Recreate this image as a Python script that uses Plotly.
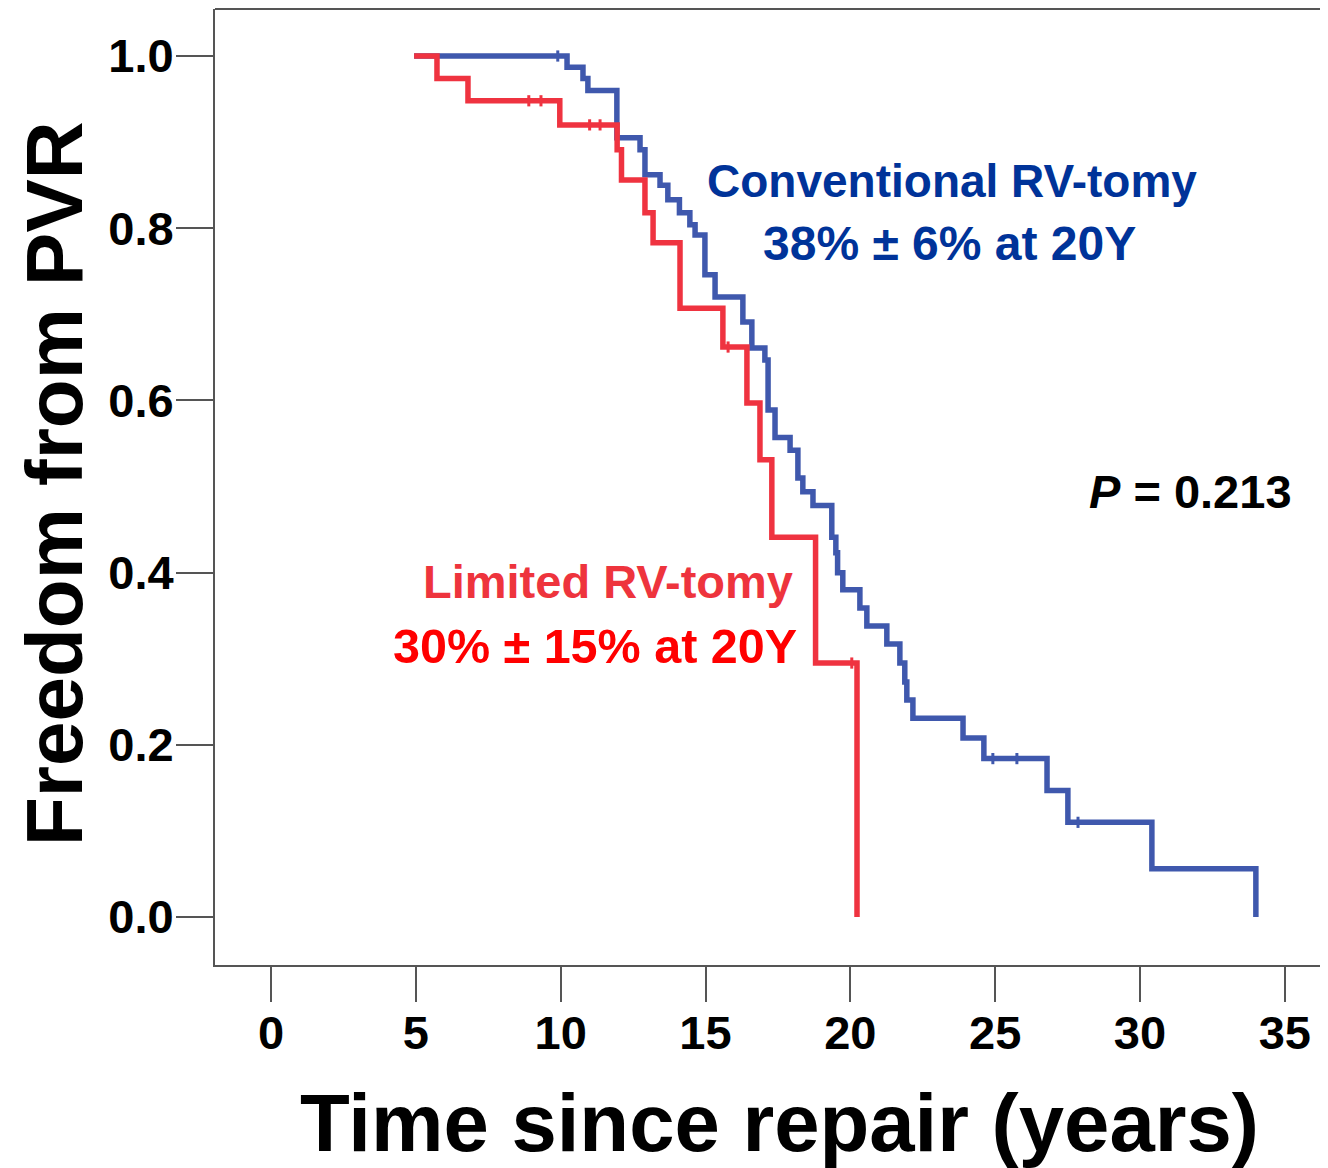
import plotly.graph_objects as go

# ---- data ----
limited_time = [4.94, 5.73, 6.80, 9.97, 11.95, 12.10, 12.91, 13.19, 14.12, 15.60,
                16.43, 16.88, 17.29, 18.80, 20.23]
limited_surv = [1.0, 0.974, 0.948, 0.920, 0.891, 0.856, 0.818, 0.783, 0.707, 0.662,
                0.597, 0.531, 0.441, 0.295, 0.0]
limited_cens_time = [8.90, 9.32, 11.00, 11.36, 15.78, 20.05]
limited_cens_surv = [0.948, 0.948, 0.920, 0.920, 0.662, 0.295]

conv_time = [4.94, 10.22, 10.77, 10.94, 11.94, 12.74, 12.91, 13.43, 13.70, 14.10,
             14.46, 14.64, 14.98, 15.33, 16.29, 16.60, 17.05, 17.16, 17.40, 17.92,
             18.19, 18.36, 18.71, 19.36, 19.50, 19.56, 19.74, 20.33, 20.57, 21.26,
             21.71, 21.88, 21.95, 22.16, 23.89, 24.61, 26.79, 27.51, 30.41, 34.0]
conv_surv = [1.0, 0.987, 0.974, 0.960, 0.905, 0.891, 0.862, 0.850, 0.833, 0.818,
             0.804, 0.792, 0.746, 0.720, 0.691, 0.661, 0.647, 0.589, 0.557, 0.542,
             0.510, 0.494, 0.478, 0.441, 0.423, 0.400, 0.380, 0.359, 0.338, 0.317,
             0.295, 0.273, 0.252, 0.231, 0.208, 0.184, 0.147, 0.110, 0.056, 0.0]
conv_cens_time = [9.90, 24.92, 25.75, 27.86]
conv_cens_surv = [1.0, 0.184, 0.184, 0.110]

x_ticks = [0, 5, 10, 15, 20, 25, 30, 35]
y_ticks = [0.0, 0.2, 0.4, 0.6, 0.8, 1.0]

BLUE_LINE = "#3f58ad"
RED_LINE = "#ef3340"
BLUE_TEXT = "#003399"
RED_TEXT_1 = "#ee343d"
RED_TEXT_2 = "#ff0000"
AXIS_COL = "#555555"
FONT = "Liberation Sans, Arial, sans-serif"

fig = go.Figure()
fig.add_trace(go.Scatter(x=conv_time, y=conv_surv, mode="lines", line_shape="hv",
                         line=dict(color=BLUE_LINE, width=5.5), name="Conventional RV-tomy",
                         showlegend=False))
fig.add_trace(go.Scatter(x=conv_cens_time, y=conv_cens_surv, mode="markers",
                         marker=dict(symbol="line-ns", size=8,
                                     line=dict(color=BLUE_LINE, width=3)),
                         showlegend=False))
fig.add_trace(go.Scatter(x=limited_time, y=limited_surv, mode="lines", line_shape="hv",
                         line=dict(color=RED_LINE, width=5.5), name="Limited RV-tomy",
                         showlegend=False))
fig.add_trace(go.Scatter(x=limited_cens_time, y=limited_cens_surv, mode="markers",
                         marker=dict(symbol="line-ns", size=8,
                                     line=dict(color=RED_LINE, width=3)),
                         showlegend=False))

# page body adds an 8px offset; size the figure so the page matches 1328x1168
OFF = 8
W, H = 1320, 1160
L, R, T, B = 207, 0, 1, 203
pw, ph = W - L - R, H - T - B


def px(xp):
    return (xp - OFF - L) / pw


def py(yp):
    return (H - B - (yp - OFF)) / ph


tick_font = dict(family=FONT, size=47, color="black", weight="bold")

fig.update_layout(
    width=W, height=H,
    margin=dict(l=L, r=R, t=T, b=B, pad=0),
    paper_bgcolor="white", plot_bgcolor="white",
    xaxis=dict(range=[-1.933, 36.49], tickvals=x_ticks, ticktext=[str(v) for v in x_ticks],
               showgrid=False, zeroline=False, showline=True, linecolor=AXIS_COL,
               linewidth=2, ticks="outside", ticklen=35, tickwidth=2, tickcolor=AXIS_COL,
               tickfont=tick_font, ticklabelstandoff=-9),
    yaxis=dict(range=[-0.0557, 1.0546], tickvals=y_ticks, tickformat=".1f",
               showgrid=False, zeroline=False, showline=True, linecolor=AXIS_COL,
               linewidth=2, ticks="outside", ticklen=37, tickwidth=2, tickcolor=AXIS_COL,
               tickfont=tick_font, ticklabelstandoff=-7),
    shapes=[dict(type="line", xref="paper", yref="paper", x0=0, x1=1, y0=1, y1=1,
                 line=dict(color=AXIS_COL, width=2))],
)

ann = [
    dict(text="Time since repair (years)", x=px(779.5), y=py(1122), size=81.5, color="black",
         xanchor="center", angle=0),
    dict(text="Freedom from PVR", x=px(54), y=py(484), size=80, color="black",
         xanchor="center", angle=-90),
    dict(text="Conventional RV-tomy", x=px(952), y=py(181.4), size=46, color=BLUE_TEXT,
         xanchor="center", angle=0),
    dict(text="38% ± 6% at 20Y", x=px(949.5), y=py(243.4), size=48, color=BLUE_TEXT,
         xanchor="center", angle=0),
    dict(text="Limited RV-tomy", x=px(607.5), y=py(581), size=47, color=RED_TEXT_1,
         xanchor="center", angle=0),
    dict(text="30% ± 15% at 20Y", x=px(595), y=py(646.4), size=48.5, color=RED_TEXT_2,
         xanchor="center", angle=0),
    dict(text="<i>P</i> = 0.213", x=px(1293), y=py(491.7), size=47, color="black",
         xanchor="right", angle=0),
]
for a in ann:
    fig.add_annotation(text=a["text"], x=a["x"], y=a["y"], xref="paper", yref="paper",
                       xanchor=a["xanchor"], yanchor="middle", textangle=a["angle"],
                       showarrow=False, borderpad=0,
                       font=dict(family=FONT, size=a["size"], color=a["color"], weight="bold"))

fig.write_html("out.html")
